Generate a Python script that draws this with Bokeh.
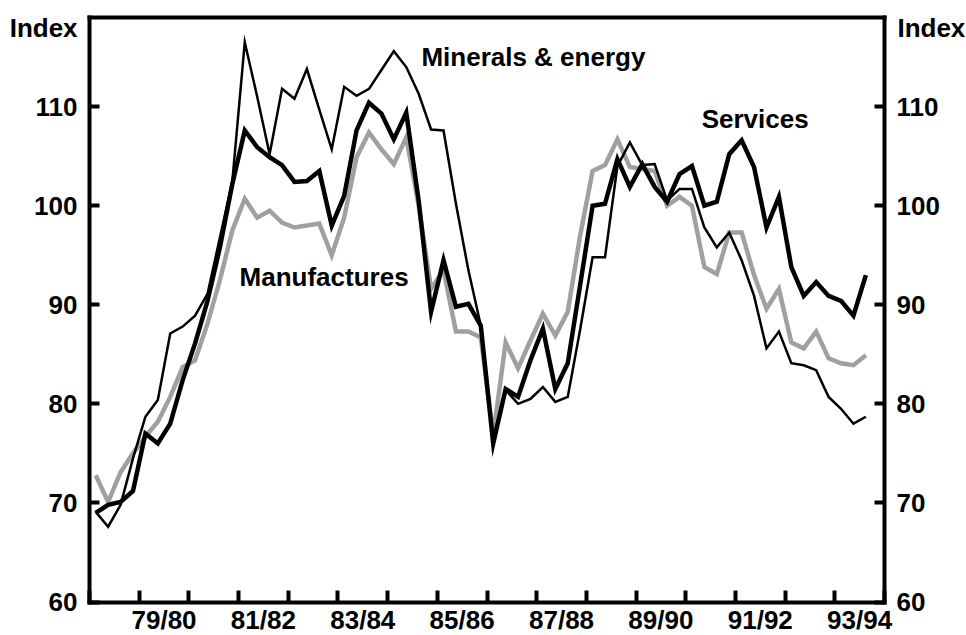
import numpy as np
from bokeh.plotting import figure
from bokeh.models import Range1d, FixedTicker, LinearAxis, Label
from bokeh.embed import file_html
from bokeh.resources import INLINE

# Quarterly observations, Sep-1978 .. Mar-1994 (placed mid-quarter, in years)
quarters = 1978.625 + 0.25 * np.arange(63)

minerals = [69.1, 67.6, 69.8, 74.5, 78.7, 80.4, 87.1, 87.8, 88.9, 91.1,
            96.8, 102.5, 116.5, 111.0, 105.2, 111.8, 110.8, 113.8, 109.7, 105.7,
            112.0, 111.1, 111.8, 113.7, 115.6, 114.0, 111.3, 107.7, 107.6, 100.2,
            93.5, 87.9, 76.5, 81.4, 80.0, 80.5, 81.7, 80.2, 80.7, 87.5,
            94.8, 94.8, 104.0, 106.4, 104.1, 104.2, 100.5, 101.7, 101.7, 97.8,
            95.8, 97.3, 94.5, 90.9, 85.6, 87.3, 84.1, 83.9, 83.4, 80.7,
            79.5, 78.0, 78.7]

services = [69.0, 69.8, 70.1, 71.2, 77.0, 76.0, 78.0, 82.4, 86.1, 90.4,
            95.8, 102.2, 107.6, 105.9, 104.9, 104.1, 102.4, 102.5, 103.5, 98.0,
            101.0, 107.6, 110.4, 109.3, 106.7, 109.4, 100.5, 89.3, 94.5, 89.8,
            90.1, 87.9, 76.0, 81.5, 80.7, 84.4, 87.6, 81.5, 84.1, 92.0,
            100.0, 100.2, 104.7, 101.9, 104.2, 101.9, 100.4, 103.2, 104.0, 100.0,
            100.4, 105.2, 106.6, 103.9, 97.8, 100.9, 93.8, 90.9, 92.3, 90.9,
            90.4, 88.9, 93.0]

manufactures = [72.8, 70.1, 73.1, 75.0, 76.7, 78.2, 80.7, 83.7, 84.4, 88.1,
                92.5, 97.5, 100.7, 98.8, 99.5, 98.3, 97.8, 98.0, 98.2, 95.0,
                98.8, 104.9, 107.4, 105.7, 104.2, 106.9, 100.0, 91.6, 93.5, 87.3,
                87.3, 86.7, 76.8, 86.2, 83.6, 86.4, 89.1, 86.9, 89.3, 97.0,
                103.5, 104.1, 106.7, 103.9, 103.7, 103.5, 100.0, 100.9, 100.0, 93.8,
                93.1, 97.3, 97.3, 93.0, 89.6, 91.6, 86.2, 85.6, 87.3, 84.6,
                84.1, 83.9, 84.9]

fy_ticks = [1980, 1982, 1984, 1986, 1988, 1990, 1992, 1994]
fy_labels = ["79/80", "81/82", "83/84", "85/86", "87/88", "89/90", "91/92", "93/94"]
fy_boundaries = [1978.5 + k for k in range(17)]
index_ticks = [60, 70, 80, 90, 100, 110]

X0, X1 = 1978.5, 1994.5      # plotted period (frame box)
Y0, Y1 = 60, 119             # index scale

FONT = "Liberation Sans"
FS = "26px"

W, H = 966, 635
# frame box occupies pixels 89..884 (x) and 17..601.5 (y) of the canvas
pxx = (884 - 89) / (X1 - X0)
pxy = (601.5 - 17) / (Y1 - Y0)
x_range = Range1d(X0 - 89 / pxx, X1 + (W - 884) / pxx)
y_range = Range1d(Y0 - (H - 601.5) / pxy, Y1 + 17 / pxy)

p = figure(width=W, height=H, output_backend="svg", toolbar_location=None,
           x_range=x_range, y_range=y_range,
           min_border_left=0, min_border_right=0, min_border_top=0,
           min_border_bottom=0)
p.grid.visible = False
p.outline_line_color = None
p.background_fill_color = "white"
p.border_fill_color = "white"


def style_axis(ax):
    ax.axis_line_color = "black"
    ax.axis_line_width = 4
    ax.axis_line_cap = "square"
    ax.major_tick_line_color = "black"
    ax.major_tick_line_width = 4
    ax.major_label_text_font = FONT
    ax.major_label_text_font_style = "bold"
    ax.major_label_text_font_size = FS
    ax.major_label_text_color = "black"


xa = p.xaxis[0]
xa.fixed_location = Y0
xa.bounds = (X0, X1)
xa.ticker = FixedTicker(ticks=fy_ticks, minor_ticks=fy_boundaries)
xa.major_label_overrides = {t: lab for t, lab in zip(fy_ticks, fy_labels)}
style_axis(xa)
xa.major_tick_in = 0
xa.major_tick_out = 0
xa.minor_tick_in = 12
xa.minor_tick_out = 0
xa.minor_tick_line_width = 4
xa.minor_tick_line_color = "black"
xa.major_label_standoff = 3

ya = p.yaxis[0]
ya.fixed_location = X0
ya.bounds = (Y0, Y1)
ya.ticker = FixedTicker(ticks=index_ticks)
style_axis(ya)
ya.major_tick_in = 10
ya.major_tick_out = 0
ya.minor_tick_line_color = None
ya.major_label_standoff = 12

yr = LinearAxis(fixed_location=X1, bounds=(Y0, Y1),
                ticker=FixedTicker(ticks=index_ticks))
style_axis(yr)
yr.major_tick_in = 10
yr.major_tick_out = 0
yr.minor_tick_line_color = None
yr.major_label_standoff = 12
p.add_layout(yr, "right")

xt = LinearAxis(fixed_location=Y1, bounds=(X0, X1), ticker=FixedTicker(ticks=[]))
style_axis(xt)
xt.major_tick_line_color = None
xt.minor_tick_line_color = None
p.add_layout(xt, "above")

p.line(quarters, manufactures, line_color="#a0a0a0", line_width=4.5, line_join="miter")
p.line(quarters, services, line_color="black", line_width=4.5, line_join="miter")
p.line(quarters, minerals, line_color="black", line_width=2.5, line_join="miter")


def add_label(x, y, text, align="left"):
    p.add_layout(Label(x=x, y=y, text=text, text_font=FONT, text_font_style="bold",
                       text_font_size=FS, text_color="black", text_align=align,
                       text_baseline="alphabetic"))


add_label(1985.18, 115.01, "Minerals & energy")
add_label(1990.82, 108.78, "Services")
add_label(1981.52, 92.84, "Manufactures")
add_label(1978.26, 117.96, "Index", align="right")
add_label(1994.76, 117.96, "Index")

open("out.html", "w").write(file_html(p, INLINE))
